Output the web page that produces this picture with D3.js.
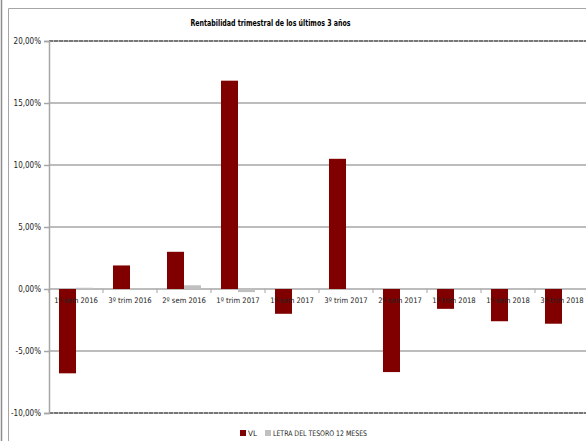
<!DOCTYPE html>
<html>
<head>
<meta charset="utf-8">
<script src="https://cdn.jsdelivr.net/npm/d3@7"></script>
<style>
  html, body { margin: 0; padding: 0; background: #fff; overflow: hidden; }
  svg { display: block; font-family: "Liberation Sans Narrow", "DejaVu Sans Condensed", "Liberation Sans", sans-serif; }
</style>
</head>
<body>
<svg id="chart" width="586" height="441"></svg>
<script>
// Quarterly returns, last three years
const categories = ["1º sem 2016", "3º trim 2016", "2º sem 2016", "1º trim 2017", "1º sem 2017",
                    "3º trim 2017", "2º sem 2017", "1º trim 2018", "1º sem 2018", "3º trim 2018"];
const seriesNames = ["VL", "LETRA DEL TESORO 12 MESES"];
const vlValues    = [-6.8, 1.9, 3.0, 16.8, -2.0, 10.5, -6.7, -1.6, -2.6, -2.8];
const letraValues = [0.1, 0.05, 0.3, -0.25, 0.05, -0.03, -0.03, -0.03, -0.03, -0.03];
const yTicks      = [-10, -5, 0, 5, 10, 15, 20];
const seriesColors = ["#800000", "#c0c0c0"];

const svg = d3.select("#chart");
const W = 586, H = 441;
const labelFont = "'Liberation Sans Narrow', 'DejaVu Sans Condensed', sans-serif";

// outer frame
svg.append("line").attr("x1", 1.5).attr("x2", 1.5).attr("y1", 0).attr("y2", H)
  .attr("stroke", "#8c8c8c").attr("stroke-width", 1.5);
svg.append("path").attr("d", `M8.5,${H} V8.5 H${W}`)
  .attr("fill", "none").attr("stroke", "#a6a6a6").attr("stroke-width", 1);

// title
svg.append("text").attr("x", 270.5).attr("y", 26).attr("text-anchor", "middle")
  .attr("font-size", 9.5).attr("font-weight", "bold").attr("fill", "#000")
  .attr("textLength", 160).attr("lengthAdjust", "spacingAndGlyphs")
  .text("Rentabilidad trimestral de los últimos 3 años");

const x = d3.scaleBand().domain(categories).range([49, 589]).paddingInner(0).paddingOuter(0);
const xs = d3.scaleBand().domain(seriesNames)
  .range([x.bandwidth() * 0.185, x.bandwidth() * 0.815]);
const y = d3.scaleLinear().domain([-10, 20]).range([413, 41]);

// horizontal gridlines
svg.append("g").selectAll("line").data(yTicks).join("line")
  .attr("x1", 49).attr("x2", W)
  .attr("y1", d => y(d)).attr("y2", d => y(d))
  .attr("stroke", "#a6a6a6").attr("stroke-width", 1.5);
// plot area top/bottom border
svg.append("g").selectAll("line").data([20, -10]).join("line")
  .attr("x1", 49).attr("x2", W)
  .attr("y1", d => y(d)).attr("y2", d => y(d))
  .attr("stroke", "#333").attr("stroke-width", 1).attr("stroke-dasharray", "4,1");

// y axis
const fmt = d => d.toFixed(2).replace(".", ",") + "%";
const yAxis = d3.axisLeft(y).tickValues(yTicks).tickFormat(fmt).tickSize(5).tickPadding(3);
const gy = svg.append("g").attr("transform", "translate(49,0)").call(yAxis);
gy.select(".domain").attr("stroke", "#a6a6a6").attr("stroke-width", 1.5);
gy.selectAll(".tick line").attr("stroke", "#a6a6a6").attr("stroke-width", 1.5);
gy.selectAll(".tick text").attr("font-size", 8).attr("fill", "#222")
  .attr("font-family", labelFont);

// bars
const rows = categories.map((c, i) => ({ cat: c, vals: [vlValues[i], letraValues[i]] }));
const groups = svg.append("g").selectAll("g").data(rows).join("g")
  .attr("transform", d => `translate(${x(d.cat)},0)`);
groups.selectAll("rect").data(d => d.vals.map((v, j) => ({ v, s: seriesNames[j], j })))
  .join("rect")
  .attr("x", d => xs(d.s))
  .attr("width", xs.bandwidth())
  .attr("y", d => y(Math.max(0, d.v)))
  .attr("height", d => Math.abs(y(d.v) - y(0)))
  .attr("fill", d => seriesColors[d.j]);

// x axis along zero
const xAxis = d3.axisBottom(x).tickSize(0).tickPadding(9);
const gx = svg.append("g").attr("transform", `translate(0,${y(0)})`).call(xAxis);
gx.select(".domain").remove();
gx.selectAll(".tick text").attr("font-size", 7.6).attr("fill", "#222")
  .attr("font-family", labelFont);
// category boundary ticks
svg.append("g").selectAll("line").data(categories).join("line")
  .attr("x1", d => x(d)).attr("x2", d => x(d))
  .attr("y1", y(0)).attr("y2", y(0) + 4)
  .attr("stroke", "#a6a6a6").attr("stroke-width", 1);

// legend
const legend = svg.append("g").attr("transform", "translate(240,433)");
const legendX = [0, 25];
const legendLen = [9, 94];
seriesNames.forEach((name, i) => {
  const g = legend.append("g").attr("transform", `translate(${legendX[i]},0)`);
  g.append("rect").attr("x", 0).attr("y", -3).attr("width", 6).attr("height", 6).attr("fill", seriesColors[i]);
  g.append("text").attr("x", 8).attr("y", 3).attr("font-size", 7.6).attr("fill", "#222")
    .attr("textLength", legendLen[i]).attr("lengthAdjust", "spacingAndGlyphs").text(name);
});
</script>
</body>
</html>
